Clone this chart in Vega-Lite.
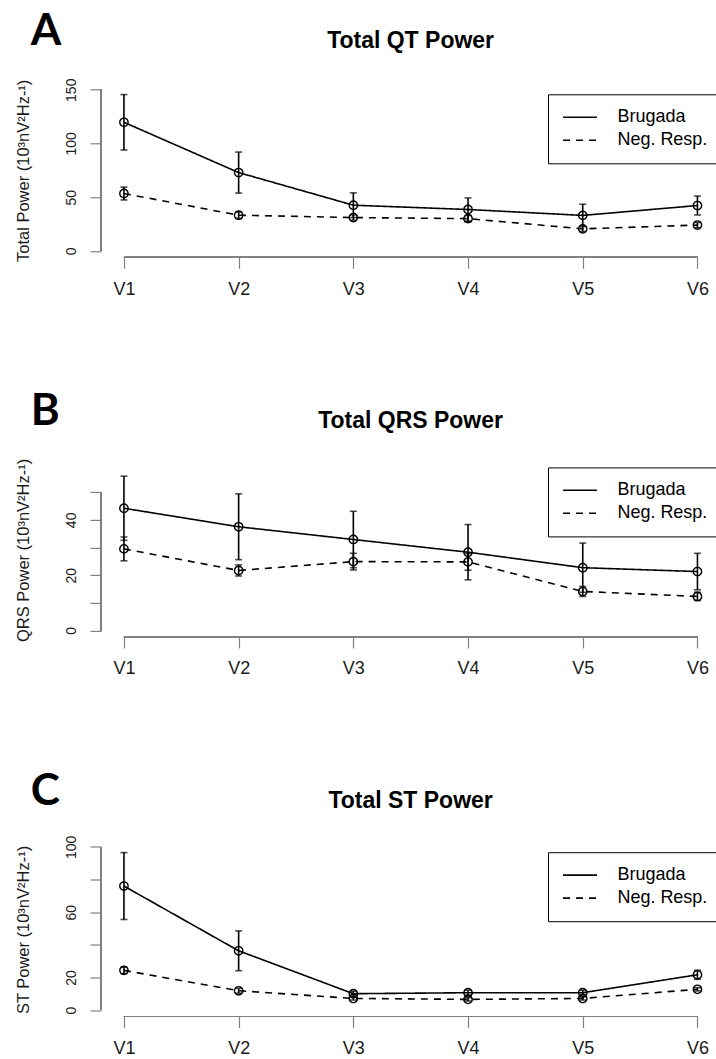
{
  "$schema": "https://vega.github.io/schema/vega-lite/v6.json",
  "background": "white",
  "padding": {"left": 14, "top": 9.3, "right": 0, "bottom": 0},
  "datasets": {
    "qt": [
      {"group": "Brugada", "lead": 1, "mean": 119.7, "lo": 93.9, "hi": 145.5},
      {"group": "Brugada", "lead": 2, "mean": 72.9, "lo": 53.8, "hi": 92.0},
      {"group": "Brugada", "lead": 3, "mean": 42.5, "lo": 31.0, "hi": 54.0},
      {"group": "Brugada", "lead": 4, "mean": 38.5, "lo": 27.7, "hi": 49.3},
      {"group": "Brugada", "lead": 5, "mean": 33.0, "lo": 22.6, "hi": 43.4},
      {"group": "Brugada", "lead": 6, "mean": 42.2, "lo": 33.4, "hi": 51.0},
      {"group": "Neg. Resp.", "lead": 1, "mean": 53.4, "lo": 47.4, "hi": 59.4},
      {"group": "Neg. Resp.", "lead": 2, "mean": 33.2, "lo": 30.2, "hi": 36.2},
      {"group": "Neg. Resp.", "lead": 3, "mean": 31.0, "lo": 28.5, "hi": 33.5},
      {"group": "Neg. Resp.", "lead": 4, "mean": 30.0, "lo": 27.0, "hi": 33.0},
      {"group": "Neg. Resp.", "lead": 5, "mean": 20.5, "lo": 18.0, "hi": 23.0},
      {"group": "Neg. Resp.", "lead": 6, "mean": 24.0, "lo": 21.5, "hi": 26.5}
    ],
    "qrs": [
      {"group": "Brugada", "lead": 1, "mean": 44.2, "lo": 32.6, "hi": 55.8},
      {"group": "Brugada", "lead": 2, "mean": 37.5, "lo": 25.6, "hi": 49.4},
      {"group": "Brugada", "lead": 3, "mean": 32.9, "lo": 22.7, "hi": 43.1},
      {"group": "Brugada", "lead": 4, "mean": 28.3, "lo": 18.3, "hi": 38.3},
      {"group": "Brugada", "lead": 5, "mean": 22.7, "lo": 13.8, "hi": 31.6},
      {"group": "Brugada", "lead": 6, "mean": 21.3, "lo": 14.7, "hi": 27.9},
      {"group": "Neg. Resp.", "lead": 1, "mean": 29.5, "lo": 25.2, "hi": 33.8},
      {"group": "Neg. Resp.", "lead": 2, "mean": 21.7, "lo": 19.7, "hi": 23.7},
      {"group": "Neg. Resp.", "lead": 3, "mean": 24.9, "lo": 21.9, "hi": 27.9},
      {"group": "Neg. Resp.", "lead": 4, "mean": 24.8, "lo": 21.8, "hi": 27.8},
      {"group": "Neg. Resp.", "lead": 5, "mean": 14.1, "lo": 12.3, "hi": 15.9},
      {"group": "Neg. Resp.", "lead": 6, "mean": 12.3, "lo": 10.8, "hi": 13.8}
    ],
    "st": [
      {"group": "Brugada", "lead": 1, "mean": 76.0, "lo": 55.5, "hi": 96.5},
      {"group": "Brugada", "lead": 2, "mean": 36.3, "lo": 24.1, "hi": 48.5},
      {"group": "Brugada", "lead": 3, "mean": 10.0, "lo": 8.5, "hi": 11.5},
      {"group": "Brugada", "lead": 4, "mean": 10.6, "lo": 9.1, "hi": 12.1},
      {"group": "Brugada", "lead": 5, "mean": 10.6, "lo": 9.1, "hi": 12.1},
      {"group": "Brugada", "lead": 6, "mean": 21.6, "lo": 18.8, "hi": 24.4},
      {"group": "Neg. Resp.", "lead": 1, "mean": 24.3, "lo": 22.3, "hi": 26.3},
      {"group": "Neg. Resp.", "lead": 2, "mean": 11.8, "lo": 10.3, "hi": 13.3},
      {"group": "Neg. Resp.", "lead": 3, "mean": 7.1, "lo": 6.1, "hi": 8.1},
      {"group": "Neg. Resp.", "lead": 4, "mean": 6.5, "lo": 5.5, "hi": 7.5},
      {"group": "Neg. Resp.", "lead": 5, "mean": 7.1, "lo": 6.1, "hi": 8.1},
      {"group": "Neg. Resp.", "lead": 6, "mean": 12.7, "lo": 11.7, "hi": 13.7}
    ]
  },
  "spacing": 91.6,
  "resolve": {"scale": {"strokeDash": "independent"}, "legend": {"strokeDash": "independent"}},
  "vconcat": [
    {
      "title": {"text": "A", "anchor": "start", "font": "Lato", "fontSize": 44, "fontWeight": "bold", "color": "black", "offset": -24, "dx": 15.8},
      "resolve": {"scale": {"strokeDash": "independent"}, "legend": {"strokeDash": "independent"}},
      "vconcat": [
        {
          "width": 614, "height": 174,
          "title": {"text": "Total QT Power", "anchor": "middle", "frame": "group", "offset": 25.4, "dx": 2.6},
          "data": {"name": "qt"},
          "layer": [
            {"mark": {"type": "rule", "color": "#808080", "strokeWidth": 1.2},
             "encoding": {"x": {"datum": 1, "type": "quantitative"}, "x2": {"datum": 6}, "y": {"datum": -6, "type": "quantitative"}}},
            {"mark": {"type": "rule", "color": "#808080", "strokeWidth": 1.2},
             "encoding": {"x": {"datum": 0.8, "type": "quantitative"}, "y": {"datum": 0, "type": "quantitative"}, "y2": {"datum": 150}}},
            {"mark": {"type": "rule", "color": "black", "strokeWidth": 1.6},
             "encoding": {
               "x": {"field": "lead", "type": "quantitative", "scale": {"domain": [0.8, 6.153], "nice": false, "zero": false},
                     "axis": {"title": null, "values": [1, 2, 3, 4, 5, 6], "tickCount": 20, "labelExpr": "'V' + datum.value", "labelOverlap": false}},
               "y": {"field": "lo", "type": "quantitative", "scale": {"domain": [-6, 156], "nice": false, "zero": false},
                     "axis": {"title": "Total Power (10³nV²Hz-¹)", "values": [0, 50, 100, 150], "tickCount": 20, "labelOverlap": false}},
               "y2": {"field": "hi"}}},
            {"mark": {"type": "tick", "orient": "horizontal", "size": 7, "thickness": 1.6, "color": "black"},
             "encoding": {"x": {"field": "lead", "type": "quantitative"}, "y": {"field": "lo", "type": "quantitative"}}},
            {"mark": {"type": "tick", "orient": "horizontal", "size": 7, "thickness": 1.6, "color": "black"},
             "encoding": {"x": {"field": "lead", "type": "quantitative"}, "y": {"field": "hi", "type": "quantitative"}}},
            {"mark": {"type": "line", "color": "black", "strokeWidth": 1.6},
             "encoding": {"x": {"field": "lead", "type": "quantitative"}, "y": {"field": "mean", "type": "quantitative"},
               "strokeDash": {"field": "group", "type": "nominal", "scale": {"domain": ["Brugada", "Neg. Resp."], "range": [[1, 0], [7, 6]]},
                 "legend": {"title": null, "orient": "none", "legendX": 447, "legendY": 11}}}},
            {"mark": {"type": "point", "shape": "circle", "filled": false, "size": 70, "strokeWidth": 1.4, "color": "black", "opacity": 1},
             "encoding": {"x": {"field": "lead", "type": "quantitative"}, "y": {"field": "mean", "type": "quantitative"}}}
          ]
        }
      ]
    },
    {
      "title": {"text": "B", "anchor": "start", "font": "Lato", "fontSize": 44, "fontWeight": "bold", "color": "black", "offset": -24, "dx": 15.8},
      "resolve": {"scale": {"strokeDash": "independent"}, "legend": {"strokeDash": "independent"}},
      "vconcat": [
        {
          "width": 614, "height": 174,
          "title": {"text": "Total QRS Power", "anchor": "middle", "frame": "group", "offset": 25, "dx": 2.6},
          "data": {"name": "qrs"},
          "layer": [
            {"mark": {"type": "rule", "color": "#808080", "strokeWidth": 1.2},
             "encoding": {"x": {"datum": 1, "type": "quantitative"}, "x2": {"datum": 6}, "y": {"datum": -2.33, "type": "quantitative"}}},
            {"mark": {"type": "rule", "color": "#808080", "strokeWidth": 1.2},
             "encoding": {"x": {"datum": 0.8, "type": "quantitative"}, "y": {"datum": 0, "type": "quantitative"}, "y2": {"datum": 50}}},
            {"mark": {"type": "rule", "color": "black", "strokeWidth": 1.6},
             "encoding": {
               "x": {"field": "lead", "type": "quantitative", "scale": {"domain": [0.8, 6.153], "nice": false, "zero": false},
                     "axis": {"title": null, "values": [1, 2, 3, 4, 5, 6], "tickCount": 20, "labelExpr": "'V' + datum.value", "labelOverlap": false}},
               "y": {"field": "lo", "type": "quantitative", "scale": {"domain": [-2.33, 60.6], "nice": false, "zero": false},
                     "axis": {"title": "QRS Power (10³nV²Hz-¹)", "values": [0, 10, 20, 30, 40, 50], "tickCount": 20, "labelOverlap": false, "labelExpr": "datum.value % 20 == 0 ? datum.label : ''"}},
               "y2": {"field": "hi"}}},
            {"mark": {"type": "tick", "orient": "horizontal", "size": 7, "thickness": 1.6, "color": "black"},
             "encoding": {"x": {"field": "lead", "type": "quantitative"}, "y": {"field": "lo", "type": "quantitative"}}},
            {"mark": {"type": "tick", "orient": "horizontal", "size": 7, "thickness": 1.6, "color": "black"},
             "encoding": {"x": {"field": "lead", "type": "quantitative"}, "y": {"field": "hi", "type": "quantitative"}}},
            {"mark": {"type": "line", "color": "black", "strokeWidth": 1.6},
             "encoding": {"x": {"field": "lead", "type": "quantitative"}, "y": {"field": "mean", "type": "quantitative"},
               "strokeDash": {"field": "group", "type": "nominal", "scale": {"domain": ["Brugada", "Neg. Resp."], "range": [[1, 0], [7, 6]]},
                 "legend": {"title": null, "orient": "none", "legendX": 447, "legendY": 4.5}}}},
            {"mark": {"type": "point", "shape": "circle", "filled": false, "size": 70, "strokeWidth": 1.4, "color": "black", "opacity": 1},
             "encoding": {"x": {"field": "lead", "type": "quantitative"}, "y": {"field": "mean", "type": "quantitative"}}}
          ]
        }
      ]
    },
    {
      "title": {"text": "C", "anchor": "start", "font": "Lato", "fontSize": 44, "fontWeight": "bold", "color": "black", "offset": -24, "dx": 15.8},
      "resolve": {"scale": {"strokeDash": "independent"}, "legend": {"strokeDash": "independent"}},
      "vconcat": [
        {
          "width": 614, "height": 174,
          "title": {"text": "Total ST Power", "anchor": "middle", "frame": "group", "offset": 22.5, "dx": 2.6},
          "data": {"name": "st"},
          "layer": [
            {"mark": {"type": "rule", "color": "#808080", "strokeWidth": 1.2},
             "encoding": {"x": {"datum": 1, "type": "quantitative"}, "x2": {"datum": 6}, "y": {"datum": -3.98, "type": "quantitative"}}},
            {"mark": {"type": "rule", "color": "#808080", "strokeWidth": 1.2},
             "encoding": {"x": {"datum": 0.8, "type": "quantitative"}, "y": {"datum": 0, "type": "quantitative"}, "y2": {"datum": 100}}},
            {"mark": {"type": "rule", "color": "black", "strokeWidth": 1.6},
             "encoding": {
               "x": {"field": "lead", "type": "quantitative", "scale": {"domain": [0.8, 6.153], "nice": false, "zero": false},
                     "axis": {"title": null, "values": [1, 2, 3, 4, 5, 6], "tickCount": 20, "labelExpr": "'V' + datum.value", "labelOverlap": false}},
               "y": {"field": "lo", "type": "quantitative", "scale": {"domain": [-3.98, 102.7], "nice": false, "zero": false},
                     "axis": {"title": "ST Power (10³nV²Hz-¹)", "values": [0, 20, 40, 60, 80, 100], "tickCount": 20, "labelOverlap": false, "labelExpr": "(datum.value == 40 || datum.value == 80) ? '' : datum.label"}},
               "y2": {"field": "hi"}}},
            {"mark": {"type": "tick", "orient": "horizontal", "size": 7, "thickness": 1.6, "color": "black"},
             "encoding": {"x": {"field": "lead", "type": "quantitative"}, "y": {"field": "lo", "type": "quantitative"}}},
            {"mark": {"type": "tick", "orient": "horizontal", "size": 7, "thickness": 1.6, "color": "black"},
             "encoding": {"x": {"field": "lead", "type": "quantitative"}, "y": {"field": "hi", "type": "quantitative"}}},
            {"mark": {"type": "line", "color": "black", "strokeWidth": 1.6},
             "encoding": {"x": {"field": "lead", "type": "quantitative"}, "y": {"field": "mean", "type": "quantitative"},
               "strokeDash": {"field": "group", "type": "nominal", "scale": {"domain": ["Brugada", "Neg. Resp."], "range": [[1, 0], [7, 6]]},
                 "legend": {"title": null, "orient": "none", "legendX": 447, "legendY": 9.7}}}},
            {"mark": {"type": "point", "shape": "circle", "filled": false, "size": 70, "strokeWidth": 1.4, "color": "black", "opacity": 1},
             "encoding": {"x": {"field": "lead", "type": "quantitative"}, "y": {"field": "mean", "type": "quantitative"}}}
          ]
        }
      ]
    }
  ],
  "config": {
    "view": {"stroke": null},
    "font": "Liberation Sans",
    "title": {"font": "Liberation Sans", "fontSize": 23, "fontWeight": "bold", "color": "black"},
    "axis": {"domain": false, "grid": false, "ticks": true, "tickColor": "#808080", "tickSize": 11, "tickWidth": 1.2,
             "labelFont": "Liberation Sans", "labelColor": "#1a1a1a", "titleFont": "Liberation Sans", "titleFontWeight": "normal", "titleColor": "#1a1a1a",
             "labelOverlap": false, "labelFlush": false},
    "axisX": {"labelFontSize": 18, "labelPadding": 12},
    "axisY": {"labelFontSize": 14, "labelAngle": 270, "labelAlign": "center", "labelBaseline": "alphabetic", "labelPadding": 15,
              "titleFontSize": 16.5, "titlePadding": 33},
    "legend": {"strokeColor": "black", "padding": 11.6, "clipHeight": 22.6, "symbolType": "stroke", "symbolSize": 1156, "symbolStrokeWidth": 1.6,
               "symbolStrokeColor": "black", "symbolOffset": 2.4, "labelFont": "Liberation Sans", "labelFontSize": 18, "labelColor": "black",
               "labelOffset": 19.4, "rowPadding": 0, "fillColor": "white"}
  }
}
